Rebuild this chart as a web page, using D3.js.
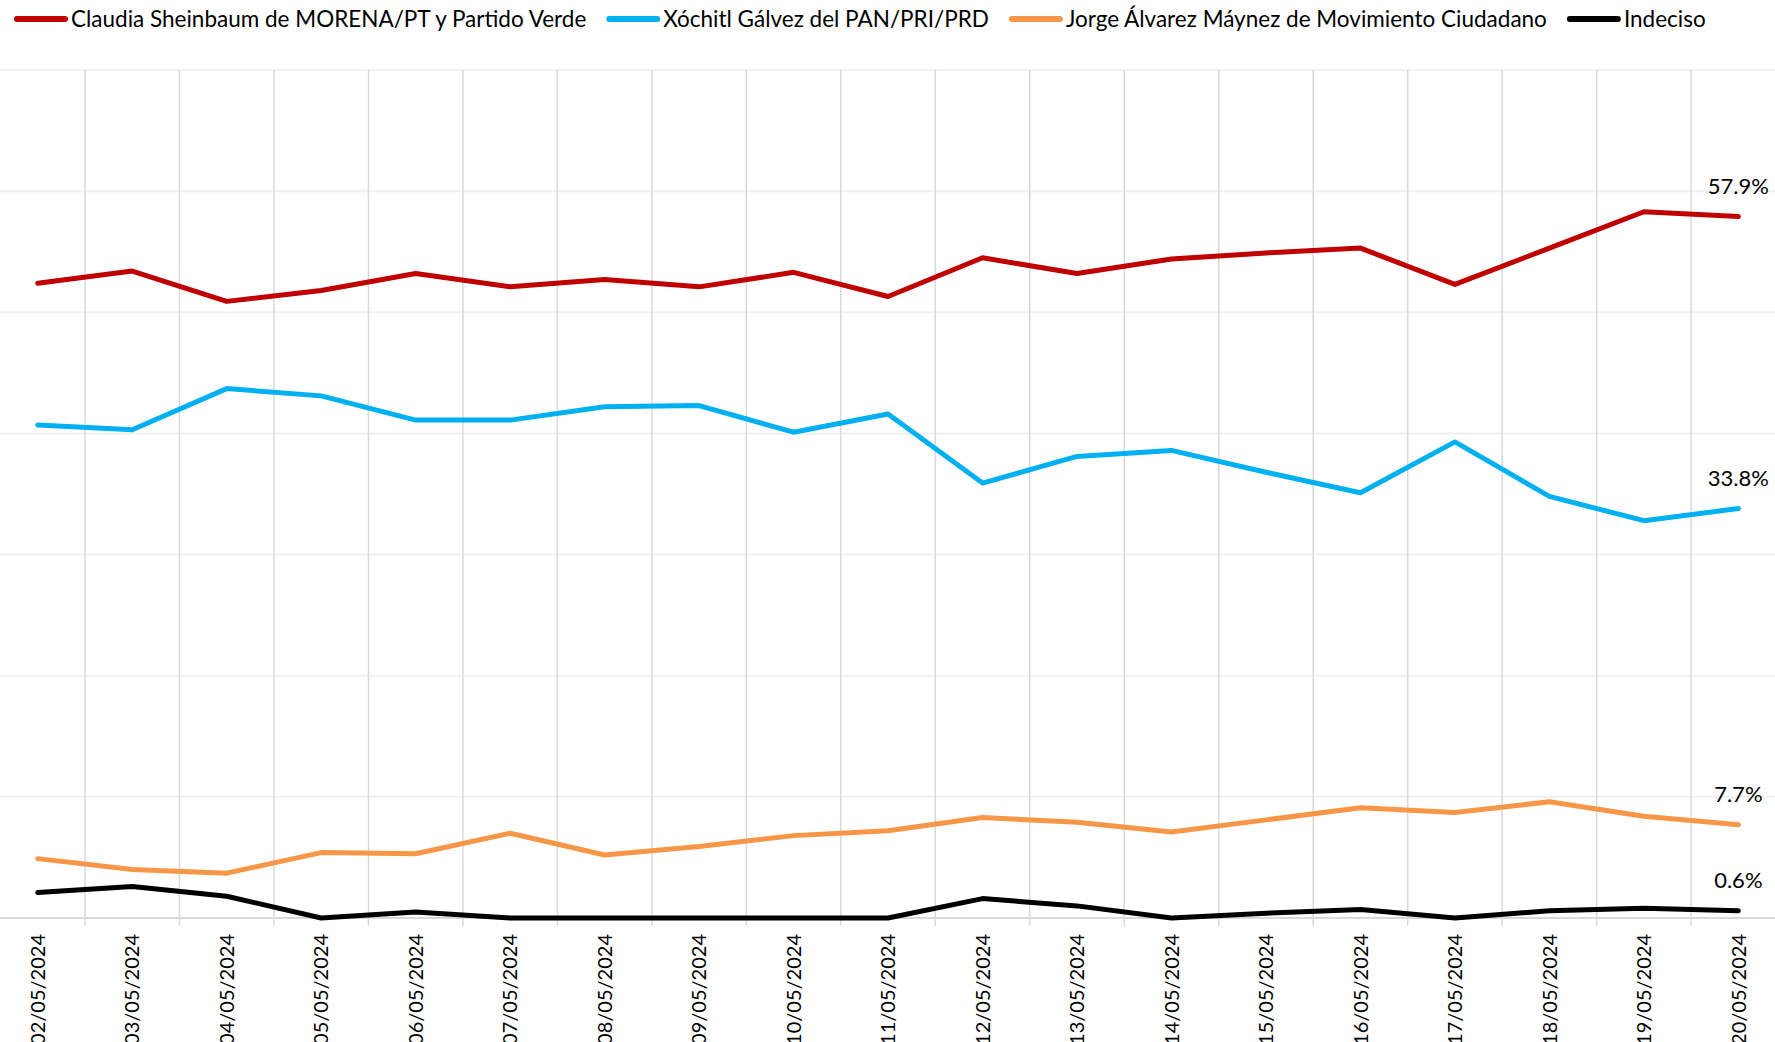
<!DOCTYPE html>
<html>
<head>
<meta charset="utf-8">
<script src="https://cdn.jsdelivr.net/npm/d3@7"></script>
<style>
  body { margin: 0; background: #fff; }
  svg { display: block; font-family: Lato, "Noto Sans", sans-serif; }
</style>
</head>
<body>
<svg class="chart" width="1775" height="1042"></svg>
<script>
// fechas de la encuesta
var dates = ["02/05/2024","03/05/2024","04/05/2024","05/05/2024","06/05/2024","07/05/2024",
  "08/05/2024","09/05/2024","10/05/2024","11/05/2024","12/05/2024","13/05/2024","14/05/2024",
  "15/05/2024","16/05/2024","17/05/2024","18/05/2024","19/05/2024","20/05/2024"];

var sheinbaum = [52.4,53.4,50.9,51.8,53.2,52.1,52.7,52.1,53.3,51.3,54.5,53.2,54.4,54.9,55.3,52.3,55.3,58.3,57.9];
var galvez    = [40.7,40.3,43.7,43.1,41.1,41.1,42.2,42.3,40.1,41.6,35.9,38.1,38.6,36.8,35.1,39.3,34.8,32.8,33.8];
var maynez    = [4.9,4.0,3.7,5.4,5.3,7.0,5.2,5.9,6.8,7.2,8.3,7.9,7.1,8.1,9.1,8.7,9.6,8.4,7.7];
var indeciso  = [2.1,2.6,1.8,0,0.5,0,0,0,0,0,1.6,1.0,0,0.4,0.7,0,0.6,0.8,0.6];

var seriesNames = ["Claudia Sheinbaum de MORENA/PT y Partido Verde","Xóchitl Gálvez del PAN/PRI/PRD",
  "Jorge Álvarez Máynez de Movimiento Ciudadano","Indeciso"];
var seriesValues = [sheinbaum, galvez, maynez, indeciso];
var colors = ["#c00000","#00b0f0","#f79646","#000000"];
var yTicks = [0,10,20,30,40,50,60,70];

var svg = d3.select("svg.chart");
var W = 1775, H = 1042;
var plotTop = 70, plotBottom = 918;

var x = d3.scaleBand().domain(dates).range([-9.5, 1785.6]);
var cx = function(d){ return x(d) + x.bandwidth()/2; };
var y = d3.scaleLinear().domain([0,70]).range([plotBottom, plotTop]);

// horizontal grid
svg.append("g").selectAll("line").data(yTicks.slice(1)).enter().append("line")
  .attr("x1",0).attr("x2",W)
  .attr("y1",d=>y(d)).attr("y2",d=>y(d))
  .attr("stroke","#f0f0f0").attr("stroke-width",2);

// vertical grid between categories
svg.append("g").selectAll("line").data(dates.slice(1)).enter().append("line")
  .attr("x1",d=>x(d)).attr("x2",d=>x(d))
  .attr("y1",plotTop).attr("y2",plotBottom+8)
  .attr("stroke","#d9d9d9").attr("stroke-width",1.5);

// axis line
svg.append("line").attr("x1",0).attr("x2",W).attr("y1",plotBottom).attr("y2",plotBottom)
  .attr("stroke","#d9d9d9").attr("stroke-width",2);

// x labels
svg.append("g").selectAll("text").data(dates).enter().append("text")
  .attr("transform",d=>"translate("+cx(d)+",934) rotate(-90)")
  .attr("text-anchor","end").attr("dy","0.36em")
  .attr("font-size",20).attr("fill","#000")
  .text(d=>d);

// lines
var line = d3.line().x((v,i)=>cx(dates[i])).y(v=>y(v));
svg.append("g").selectAll("path").data(seriesValues).enter().append("path")
  .attr("d",d=>line(d))
  .attr("fill","none")
  .attr("stroke",(d,i)=>colors[i])
  .attr("stroke-width",5)
  .attr("stroke-linejoin","round")
  .attr("stroke-linecap","round");

// end labels
var last = dates.length-1;
svg.append("g").selectAll("text").data(seriesValues).enter().append("text")
  .attr("x",cx(dates[last]))
  .attr("y",d=>y(d[last])-23)
  .attr("text-anchor","middle")
  .attr("font-size",22).attr("fill","#000")
  .text(d=>d3.format(".1f")(d[last])+"%");

// legend
var lx = 14;
var leg = svg.append("g");
seriesNames.forEach(function(name,i){
  leg.append("line").attr("x1",lx+3).attr("x2",lx+51).attr("y1",19).attr("y2",19)
    .attr("stroke",colors[i]).attr("stroke-width",6).attr("stroke-linecap","round");
  var t = leg.append("text").attr("x",lx+57).attr("y",19).attr("dy","0.35em")
    .attr("font-size",22.5).attr("fill","#000").text(name);
  lx += 57 + t.node().getComputedTextLength() + 20;
});
</script>
</body>
</html>
